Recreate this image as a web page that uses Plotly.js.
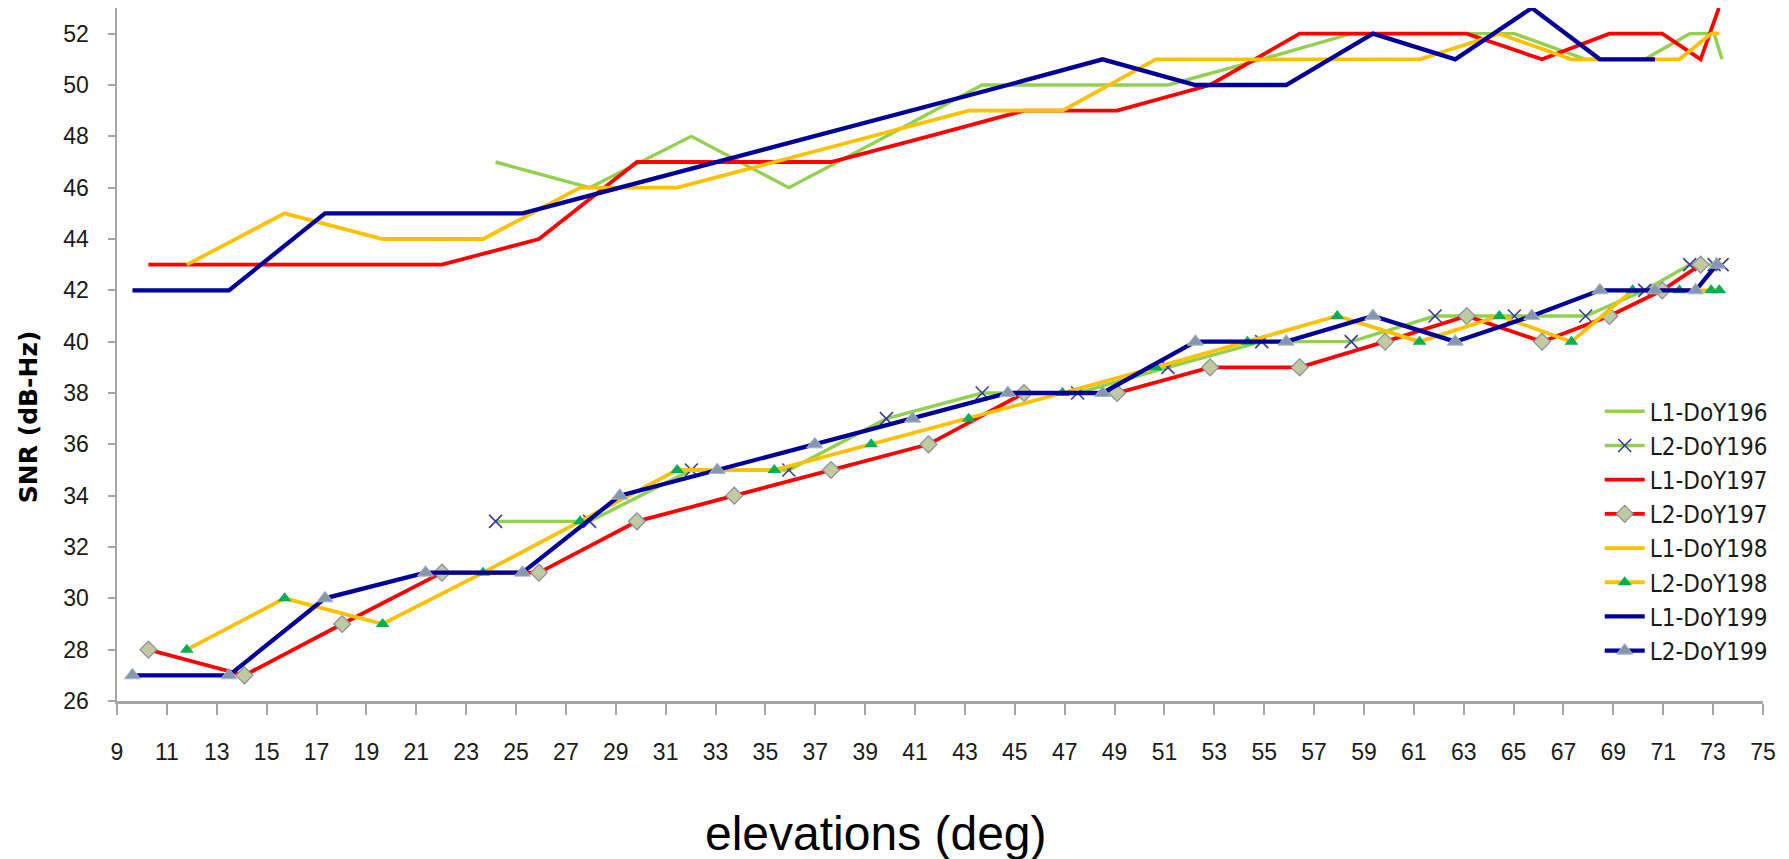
<!DOCTYPE html>
<html>
<head>
<meta charset="utf-8">
<script src="https://cdn.plot.ly/plotly-3.0.1.min.js"></script>
<style>html,body{margin:0;padding:0;background:#fff;}#chart{width:1789px;height:859px;}</style>
</head>
<body>
<div id="chart"></div>
<script>
// Elevation (deg) and SNR (dB-Hz) values
const seriesNames = ["L1-DoY196","L2-DoY196","L1-DoY197","L2-DoY197","L1-DoY198","L2-DoY198","L1-DoY199","L2-DoY199"];

const elevL1_196 = [24.18, 27.95, 32.03, 35.94, 39.85, 43.69, 47.52, 51.14, 54.9, 58.49, 61.85, 65.03, 67.89, 70.26, 72.06, 73.04, 73.36];
const snrL1_196  = [47, 46, 48, 46, 48, 50, 50, 50, 51, 52, 52, 52, 51, 51, 52, 52, 51];
const elevL2_196 = [24.18, 27.95, 32.03, 35.94, 39.85, 43.69, 47.52, 51.14, 54.9, 58.49, 61.85, 65.03, 67.89, 70.26, 72.06, 73.04, 73.36];
const snrL2_196  = [33, 33, 35, 35, 37, 38, 38, 39, 40, 40, 41, 41, 41, 42, 43, 43, 43];

const elevL1_197 = [10.26, 14.11, 18.03, 22.03, 25.92, 29.85, 33.75, 37.63, 41.54, 45.37, 49.1, 52.83, 56.42, 59.85, 63.12, 66.14, 68.84, 70.96, 72.5, 73.23];
const snrL1_197  = [43, 43, 43, 43, 44, 47, 47, 47, 48, 49, 49, 50, 52, 52, 52, 51, 52, 52, 51, 53];
const elevL2_197 = [10.26, 14.11, 18.03, 22.03, 25.92, 29.85, 33.75, 37.63, 41.54, 45.37, 49.1, 52.83, 56.42, 59.85, 63.12, 66.14, 68.84, 70.96, 72.5];
const snrL2_197  = [28, 27, 29, 31, 31, 33, 34, 35, 36, 38, 38, 39, 39, 40, 41, 40, 41, 42, 43];

const elevL1_198 = [11.8, 15.72, 19.65, 23.68, 27.57, 31.46, 35.36, 39.24, 43.15, 46.91, 50.65, 54.33, 57.93, 61.23, 64.43, 67.32, 69.77, 71.65, 72.92, 73.25];
const snrL1_198  = [43, 45, 44, 44, 46, 46, 47, 48, 49, 49, 51, 51, 51, 51, 52, 51, 51, 51, 52, 52];
const elevL2_198 = [11.8, 15.72, 19.65, 23.68, 27.57, 31.46, 35.36, 39.24, 43.15, 46.91, 50.65, 54.33, 57.93, 61.23, 64.43, 67.32, 69.77, 71.65, 72.92, 73.25];
const snrL2_198  = [28, 30, 29, 31, 33, 35, 35, 36, 37, 38, 39, 40, 41, 40, 41, 40, 42, 42, 42, 42];

const elevL1_199 = [9.62, 13.49, 17.34, 21.37, 25.26, 29.16, 33.07, 36.98, 40.9, 44.72, 48.52, 52.24, 55.88, 59.36, 62.66, 65.73, 68.46, 70.67];
const snrL1_199  = [42, 42, 45, 45, 45, 46, 47, 48, 49, 50, 51, 50, 50, 52, 51, 53, 51, 51];
const elevL2_199 = [9.62, 13.49, 17.34, 21.37, 25.26, 29.16, 33.07, 36.98, 40.9, 44.72, 48.52, 52.24, 55.88, 59.36, 62.66, 65.73, 68.46, 70.67, 72.3, 73.15];
const snrL2_199  = [27, 27, 30, 31, 31, 34, 35, 36, 37, 38, 38, 40, 40, 41, 40, 41, 42, 42, 42, 43];

const xTitle = "elevations (deg)";
const yTitle = "SNR (dB-Hz)";

const GREEN = "#92D050", RED = "#FF0000", GOLD = "#FFC000", NAVY = "#000099";
const LW = 3.8;

const traces = [
  {x: elevL1_196, y: snrL1_196, name: seriesNames[0], mode: "lines", line: {color: GREEN, width: 3.4}},
  {x: elevL2_196, y: snrL2_196, name: seriesNames[1], mode: "lines+markers", line: {color: GREEN, width: 3.4},
   marker: {symbol: "x-thin-open", size: 13, line: {color: "#3A3A9C", width: 1.6}, color: "#3A3A9C"}},
  {x: elevL1_197, y: snrL1_197, name: seriesNames[2], mode: "lines", line: {color: RED, width: LW}},
  {x: elevL2_197, y: snrL2_197, name: seriesNames[3], mode: "lines+markers", line: {color: RED, width: LW},
   marker: {symbol: "diamond", size: 13, color: "#BFCB9E", line: {color: "#8C8CA0", width: 1.2}}},
  {x: elevL1_198, y: snrL1_198, name: seriesNames[4], mode: "lines", line: {color: GOLD, width: LW}},
  {x: elevL2_198, y: snrL2_198, name: seriesNames[5], mode: "lines+markers", line: {color: GOLD, width: LW},
   marker: {symbol: "triangle-up", size: 12, color: "#00B050", line: {width: 0}}},
  {x: elevL1_199, y: snrL1_199, name: seriesNames[6], mode: "lines", line: {color: NAVY, width: 4.3}},
  {x: elevL2_199, y: snrL2_199, name: seriesNames[7], mode: "lines+markers", line: {color: NAVY, width: 4.3},
   marker: {symbol: "triangle-up", size: 14, color: "#8497B0", line: {color: "#A9B6C8", width: 1}}}
];

const tickFont = {family: "Liberation Sans, Arial, sans-serif", size: 23, color: "#1a1a1a"};

const layout = {
  width: 1789, height: 859,
  margin: {l: 117, r: 26, t: 8, b: 158},
  paper_bgcolor: "#ffffff", plot_bgcolor: "#ffffff",
  showlegend: true,
  legend: {
    x: 0.9008, xanchor: "left", y: 0.45, yanchor: "top",
    bgcolor: "rgba(0,0,0,0)", borderwidth: 0,
    font: {family: "Liberation Sans Narrow, DejaVu Sans Condensed, Liberation Sans, sans-serif", size: 24, color: "#1a1a1a"},
    itemwidth: 40, tracegroupgap: 0
  },
  xaxis: {
    range: [9, 75], tick0: 9, dtick: 2, tickmode: "linear",
    showgrid: false, zeroline: false,
    showline: true, linecolor: "#A6A6A6", linewidth: 2.5,
    ticks: "outside", ticklen: 11, tickwidth: 2, tickcolor: "#A6A6A6",
    tickfont: tickFont, ticklabelstandoff: 18
  },
  yaxis: {
    range: [26, 53], tick0: 26, dtick: 2, tickmode: "linear",
    showgrid: false, zeroline: false,
    showline: true, linecolor: "#A6A6A6", linewidth: 2.5,
    ticks: "outside", ticklen: 7, tickwidth: 2, tickcolor: "#A6A6A6",
    tickfont: tickFont, ticklabelstandoff: 14
  },
  annotations: [
    {text: xTitle, xref: "paper", yref: "paper", x: 0.461, y: -0.1916, xanchor: "center", yanchor: "middle",
     showarrow: false, font: {family: "Liberation Sans, Arial, sans-serif", size: 48, color: "#000000"}},
    {text: "<b>" + yTitle + "</b>", xref: "paper", yref: "paper", x: -0.0536, y: 0.4107, xanchor: "center", yanchor: "middle",
     textangle: -90, showarrow: false, font: {family: "DejaVu Sans, sans-serif", size: 25, color: "#000000"}}
  ]
};

Plotly.newPlot("chart", traces, layout, {displayModeBar: false, staticPlot: true});
</script>
</body>
</html>
